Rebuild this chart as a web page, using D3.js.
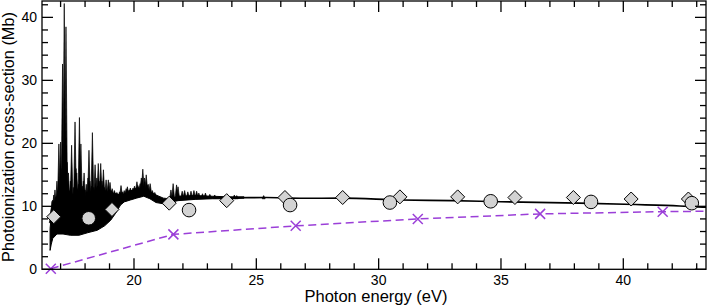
<!DOCTYPE html>
<html>
<head>
<meta charset="utf-8">
<script src="https://cdn.jsdelivr.net/npm/d3@7"></script>
<style>
  body { margin: 0; background: #fff; }
  svg text { font-family: "Liberation Sans", Arial, Helvetica, sans-serif; fill: #000; }
</style>
</head>
<body>
<svg id="chart"></svg>
<script>
// dense resonance band (energy, lower and upper edge of the filled region)
const bandE    = [16.57, 16.62, 16.68, 16.85, 17.1, 17.4, 17.75, 18.1, 18.5, 18.8, 19.05, 19.25, 19.45, 19.6, 19.85, 20.1, 20.4, 20.65, 20.9, 21.2, 21.45, 21.8, 22.5, 23.2, 23.9, 24.5];
const bandLow  = [3.0, 4.0, 4.9, 5.6, 5.6, 5.4, 5.4, 5.8, 6.2, 6.9, 7.8, 8.9, 10.2, 10.7, 11.0, 11.3, 11.6, 11.2, 10.6, 10.4, 10.6, 10.9, 11.1, 11.2, 11.2, 11.3];
const bandHigh = [6.5, 8.5, 9.5, 10.2, 10.5, 10.5, 10.8, 11.0, 11.5, 11.8, 12.0, 12.0, 11.8, 11.9, 12.4, 12.7, 12.8, 12.3, 11.8, 11.3, 11.2, 11.6, 11.7, 11.6, 11.5, 11.5];

// resonance peaks
const spikeE = [16.6, 16.62, 16.65, 16.68, 16.72, 16.77, 16.81, 16.85, 16.89, 16.93, 16.97, 17.0, 17.05, 17.08, 17.12, 17.15, 17.19, 17.22, 17.27, 17.32, 17.36, 17.4, 17.45, 17.49, 17.52, 17.56, 17.59, 17.63, 17.66, 17.7, 17.74, 17.77, 17.83, 17.87, 17.9, 17.93, 17.96, 18.0, 18.05, 18.09, 18.12, 18.16, 18.2, 18.24, 18.27, 18.3, 18.35, 18.38, 18.41, 18.44, 18.48, 18.51, 18.54, 18.58, 18.61, 18.64, 18.69, 18.72, 18.75, 18.8, 18.83, 18.86, 18.9, 18.95, 18.99, 19.02, 19.07, 19.11, 19.15, 19.2, 19.24, 19.3, 19.35, 19.41, 19.47, 19.53, 19.6, 19.64, 19.68, 19.73, 19.8, 19.85, 19.9, 19.96, 20.02, 20.07, 20.12, 20.16, 20.2, 20.25, 20.3, 20.36, 20.43, 20.5, 20.54, 20.58, 20.66, 20.75, 20.85, 21.51, 21.6, 21.74, 21.8, 21.97, 22.07, 22.2, 22.33, 22.45, 22.56, 22.65, 22.8, 22.92, 23.1, 23.3, 23.7, 24.1, 24.2, 25.3];
const spikeV = [8.5, 9.5, 10.8, 11.0, 11.8, 12.6, 11.5, 14.0, 12.5, 19.9, 13.0, 20.2, 16.0, 32.6, 13.5, 42.2, 14.0, 38.5, 17.0, 15.3, 12.5, 14.0, 19.7, 12.0, 13.0, 12.5, 23.4, 16.0, 15.3, 12.8, 13.5, 24.1, 19.9, 12.8, 13.2, 14.0, 15.3, 12.6, 13.5, 12.3, 14.5, 18.9, 14.0, 12.5, 13.2, 21.7, 13.0, 12.4, 16.6, 13.0, 14.5, 13.2, 16.8, 14.0, 13.0, 16.8, 14.0, 13.3, 15.8, 13.0, 12.5, 14.2, 12.5, 14.2, 12.7, 13.8, 12.5, 12.8, 12.0, 12.5, 12.0, 12.2, 11.8, 12.3, 13.3, 12.3, 12.5, 12.2, 12.8, 13.1, 12.6, 12.9, 12.6, 12.9, 13.2, 12.9, 13.9, 13.3, 13.0, 13.6, 14.5, 15.9, 14.5, 15.0, 13.4, 13.5, 13.6, 12.5, 12.2, 12.6, 13.6, 13.4, 13.1, 12.4, 12.5, 12.3, 12.4, 12.5, 12.4, 12.1, 12.0, 12.1, 11.9, 11.8, 11.7, 11.8, 11.7, 11.7];

// smooth part of the calculated cross-section
const contE = [21.4, 22.5, 24.0, 25.4, 26.8, 28.5, 30.9, 33.0, 35.0, 38.2, 40.5, 42.3, 43.4];
const contV = [10.9, 11.35, 11.35, 11.4, 11.28, 11.3, 11.0, 10.9, 10.73, 10.5, 10.28, 10.06, 9.84];

// diamond markers
const diamondE = [16.72, 19.1, 21.44, 23.79, 26.17, 28.53, 30.87, 33.23, 35.57, 37.96, 40.32, 42.66];
const diamondV = [8.35, 9.5, 10.5, 10.9, 11.4, 11.4, 11.5, 11.5, 11.4, 11.4, 11.16, 11.16];

// circle markers
const circleE = [18.15, 22.25, 26.38, 30.46, 34.58, 38.68, 42.8];
const circleV = [8.1, 9.4, 10.2, 10.6, 10.8, 10.7, 10.5];

// cross markers with dashed line
const crossE = [16.6, 21.61, 26.61, 31.6, 36.6, 41.61, 46.6];
const crossV = [0.1, 5.55, 6.9, 8.0, 8.8, 9.15, 9.35];

const xMajor = [20, 25, 30, 35, 40];
const yMajor = [0, 10, 20, 30, 40];

const W = 707, H = 306;
const margin = {top: 1, right: 1, bottom: 36.7, left: 42};
const width = W - margin.left - margin.right,
  height = H - margin.top - margin.bottom;

const svg = d3.select('#chart').attr('width', W).attr('height', H);
const g = svg.append('g').attr('transform', `translate(${margin.left},${margin.top})`);

const x = d3.scaleLinear().domain([16.24, 43.38]).range([0, width]);
const y = d3.scaleLinear().domain([0, 42.6]).range([height, 0]);

svg.append('defs').append('clipPath').attr('id', 'clip')
  .append('rect').attr('width', width).attr('height', height);

const plot = g.append('g').attr('clip-path', 'url(#clip)');

// dashed purple line
const purple = '#9b3fd8';
const crossPts = crossE.map((e, i) => [e, crossV[i]]);
plot.append('path')
  .datum(crossPts)
  .attr('fill', 'none')
  .attr('stroke', purple)
  .attr('stroke-width', 1.5)
  .attr('stroke-dasharray', '8,4.5')
  .attr('d', d3.line().x(d => x(d[0])).y(d => y(d[1])));

// resonance band
const band = bandE.map((e, i) => ({e, lo: bandLow[i], hi: bandHigh[i]}));
plot.append('path')
  .datum(band)
  .attr('fill', '#000')
  .attr('stroke', '#000')
  .attr('stroke-width', 1)
  .attr('d', d3.area().x(d => x(d.e)).y0(d => y(d.lo)).y1(d => y(d.hi)));

const hiAt = d3.scaleLinear().domain(bandE).range(bandHigh).clamp(true);
plot.selectAll('.spike')
  .data(spikeE.map((e, i) => [e, spikeV[i]]))
  .join('path')
  .attr('class', 'spike')
  .attr('fill', '#000')
  .attr('stroke', '#000')
  .attr('stroke-width', 0.7)
  .attr('d', d => {
    const cx = x(d[0]), b = y(hiAt(d[0]) - 0.3), t = y(d[1]);
    return `M${cx - 1.5},${b}L${cx},${t}L${cx + 1.5},${b}Z`;
  });

// smooth curve
plot.append('path')
  .datum(contE.map((e, i) => [e, contV[i]]))
  .attr('fill', 'none')
  .attr('stroke', '#000')
  .attr('stroke-width', 1.6)
  .attr('d', d3.line().curve(d3.curveMonotoneX).x(d => x(d[0])).y(d => y(d[1])));

// markers
const grey = '#d3d3d3';
g.selectAll('.diamond')
  .data(diamondE.map((e, i) => [e, diamondV[i]]))
  .join('path')
  .attr('class', 'diamond')
  .attr('transform', d => `translate(${x(d[0])},${y(d[1])})`)
  .attr('d', 'M0,-7L7,0L0,7L-7,0Z')
  .attr('fill', grey)
  .attr('stroke', '#000')
  .attr('stroke-width', 1);

g.selectAll('.circle')
  .data(circleE.map((e, i) => [e, circleV[i]]))
  .join('circle')
  .attr('class', 'circle')
  .attr('cx', d => x(d[0]))
  .attr('cy', d => y(d[1]))
  .attr('r', 6.8)
  .attr('fill', grey)
  .attr('stroke', '#000')
  .attr('stroke-width', 1);

g.selectAll('.cross')
  .data(crossPts.filter(d => d[0] < 43.38))
  .join('path')
  .attr('class', 'cross')
  .attr('transform', d => `translate(${x(d[0])},${y(d[1])})`)
  .attr('d', 'M-5,-5L5,5M-5,5L5,-5')
  .attr('stroke', purple)
  .attr('stroke-width', 1.5);

// frame and ticks (inward, on all four sides)
const ax = g.append('g').attr('stroke', '#000').attr('stroke-width', 1.3);
ax.append('rect').attr('width', width).attr('height', height).attr('fill', 'none');

const xMinor = d3.range(17, 44).filter(v => !xMajor.includes(v));
const yMinor = d3.range(2, 43, 2).filter(v => !yMajor.includes(v));

xMajor.concat(xMinor).forEach(v => {
  const len = xMajor.includes(v) ? 11 : 6;
  ax.append('line').attr('x1', x(v)).attr('x2', x(v)).attr('y1', height).attr('y2', height - len);
  ax.append('line').attr('x1', x(v)).attr('x2', x(v)).attr('y1', 0).attr('y2', len);
});
yMajor.concat(yMinor).forEach(v => {
  const len = yMajor.includes(v) ? 11 : 6;
  ax.append('line').attr('y1', y(v)).attr('y2', y(v)).attr('x1', 0).attr('x2', len);
  ax.append('line').attr('y1', y(v)).attr('y2', y(v)).attr('x1', width).attr('x2', width - len);
});

g.selectAll('.xlab')
  .data(xMajor)
  .join('text')
  .attr('class', 'xlab')
  .attr('x', d => x(d))
  .attr('y', height + 16)
  .attr('text-anchor', 'middle')
  .attr('font-size', 14)
  .text(d => d);

g.selectAll('.ylab')
  .data(yMajor)
  .join('text')
  .attr('class', 'ylab')
  .attr('x', -5)
  .attr('y', d => y(d))
  .attr('dy', '0.36em')
  .attr('text-anchor', 'end')
  .attr('font-size', 14)
  .text(d => d);

svg.append('text')
  .attr('x', 376)
  .attr('y', 302)
  .attr('text-anchor', 'middle')
  .attr('font-size', 16.5)
  .text('Photon energy (eV)');

svg.append('text')
  .attr('transform', 'translate(14,137) rotate(-90)')
  .attr('text-anchor', 'middle')
  .attr('font-size', 16.3)
  .text('Photoionization cross-section (Mb)');
</script>
</body>
</html>
